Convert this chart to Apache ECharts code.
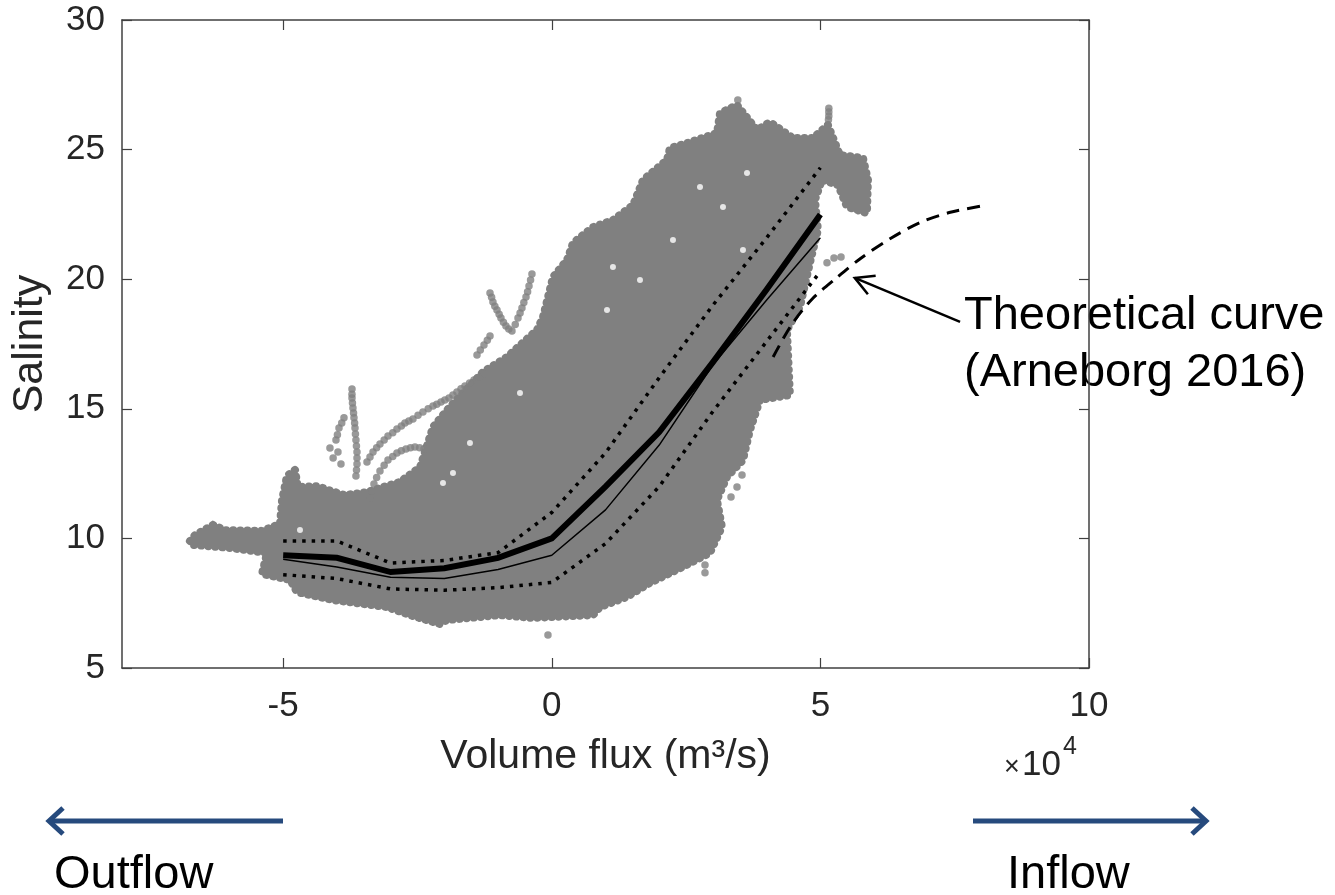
<!DOCTYPE html>
<html>
<head>
<meta charset="utf-8">
<script src="https://cdn.jsdelivr.net/npm/echarts@6/dist/echarts.min.js"></script>
<style>
html,body{margin:0;padding:0;background:#fff;}
#chart{width:1335px;height:895px;}
</style>
</head>
<body>
<div id="chart"></div>
<script>
// ---------------- DATA ----------------
// x: volume flux (units of 10^4 m^3/s), y: salinity
const xTickValues = [-5, 0, 5, 10];
const yTickValues = [5, 10, 15, 20, 25, 30];

// bin centres for the statistics lines
const fluxBins = [-5, -4, -3, -2, -1, 0, 1, 2, 3, 4, 5];
const meanSalinity   = [9.35, 9.25, 8.70, 8.85, 9.25, 10.0, 12.0, 14.1, 16.8, 19.6, 22.5];
const medianSalinity = [9.20, 8.90, 8.50, 8.45, 8.80, 9.35, 11.1, 13.6, 16.7, 19.2, 21.6];
const upperSalinity  = [9.90, 9.90, 9.05, 9.15, 9.45, 11.0, 13.3, 16.2, 19.0, 21.6, 24.3];
const lowerSalinity  = [8.60, 8.45, 8.05, 8.00, 8.10, 8.30, 9.80, 12.0, 14.9, 17.6, 20.3];

// theoretical curve (Arneborg 2016)
const theoryFlux     = [4.12, 4.46, 4.83, 5.30, 5.76, 6.32, 6.88, 7.44, 8.10];
const theorySalinity = [17.0, 18.23, 19.2, 20.05, 20.82, 21.59, 22.21, 22.59, 22.86];

// outline of the dense cloud of observations [flux, salinity]
const cloudOutline = [
 [-6.735,9.90],[-6.642,10.13],[-6.307,10.52],[-6.083,10.32],[-5.395,10.29],[-5.060,10.56],
 [-5.022,11.48],[-4.929,12.41],[-4.780,12.64],[-4.724,11.98],[-4.352,12.02],[-4.166,11.87],
 [-3.850,11.67],[-3.440,11.79],[-2.826,12.18],[-2.453,12.75],[-2.211,14.30],[-1.951,14.95],
 [-1.653,15.61],[-1.281,16.42],[-0.834,17.00],[-0.276,18.04],[-0.164,18.54],[0.022,20.08],
 [0.283,20.74],[0.395,21.40],[0.767,22.01],[1.139,22.28],[1.512,22.86],[1.698,23.83],
 [2.144,24.60],[2.200,25.06],[2.517,25.25],[3.075,25.64],[3.131,26.41],[3.447,26.72],
 [3.820,25.76],[4.062,26.06],[4.490,25.45],[4.862,25.45],[5.141,25.95],[5.365,24.79],
 [5.793,24.68],[5.886,23.83],[5.867,22.55],[5.495,22.79],[5.328,23.63],[5.030,23.83],
 [4.900,23.06],[4.955,21.90],[4.806,20.63],[4.620,18.93],[4.378,18.04],[4.434,15.53],
 [3.876,15.34],[3.690,14.18],[3.559,13.02],[3.261,12.37],[3.075,11.48],[3.168,10.44],
 [2.945,9.44],[2.442,8.90],[1.828,8.28],[1.400,7.74],[0.897,7.35],[0.767,7.04],
 [-0.350,6.93],[-0.964,7.04],[-1.951,6.85],[-2.081,6.70],[-2.640,7.04],[-3.068,7.35],
 [-4.073,7.62],[-4.743,7.93],[-4.873,8.40],[-5.395,8.63],[-5.302,9.44],[-5.990,9.63],
 [-6.680,9.75]
];

// sparse observations outside the dense cloud
const sparseObs = [
 [-3.719,15.76],[-3.719,15.56],[-3.719,15.42],[-3.710,15.22],[-3.701,15.03],[-3.690,14.84],[-3.682,14.65],
 [-3.670,14.45],[-3.663,14.26],[-3.655,14.03],[-3.645,13.80],[-3.636,13.56],[-3.626,13.33],[-3.626,13.10],
 [-3.626,12.87],[-3.635,12.64],[-3.645,12.41],[-3.868,14.65],[-3.910,14.45],[-3.961,14.26],[-4.017,13.80],
 [-3.980,13.33],[-3.924,12.87],[-4.129,13.49],[-4.070,13.10],[-3.990,14.00],
 [-3.440,12.95],[-3.384,13.14],[-3.328,13.33],[-3.260,13.50],[-3.198,13.64],[-3.120,13.80],[-3.049,13.95],
 [-2.960,14.08],[-2.882,14.22],[-2.800,14.34],[-2.733,14.45],[-2.660,14.53],[-2.584,14.61],[-2.490,14.75],
 [-2.398,14.88],[-2.300,15.00],[-2.211,15.11],[-2.140,15.18],[-2.062,15.26],[-1.990,15.34],[-1.913,15.42],
 [-1.840,15.53],[-1.765,15.65],[-1.690,15.77],[-1.616,15.88],[-1.530,16.00],[-1.448,16.11],[-1.360,16.22],
 [-1.281,16.34],
 [-3.384,11.56],[-3.350,11.83],[-3.310,12.10],[-3.260,12.35],[-3.198,12.60],[-3.120,12.82],[-3.049,13.02],
 [-2.960,13.16],[-2.882,13.29],[-2.800,13.38],[-2.714,13.45],[-2.630,13.50],[-2.547,13.53],[-2.460,13.50],
 [-2.379,13.45],
 [-1.150,19.47],[-1.120,19.30],[-1.095,19.12],[-1.060,18.96],[-1.020,18.81],[-0.980,18.65],[-0.946,18.50],
 [-0.900,18.34],[-0.853,18.19],[-0.800,18.08],[-0.741,18.00],[-0.680,18.25],[-0.629,18.50],[-0.590,18.70],
 [-0.555,18.89],[-0.520,19.10],[-0.480,19.31],[-0.450,19.52],[-0.424,19.74],[-0.395,19.97],[-0.369,20.20],
 [-1.150,17.81],[-1.200,17.64],[-1.262,17.46],[-1.330,17.27],[-1.392,17.08],
 [3.463,26.91],[5.157,26.60],[5.157,26.45],[5.157,26.30],[5.150,26.15],
 [3.541,12.45],[3.448,11.98],[3.336,11.60],[2.852,8.67],[2.852,8.97],[-0.071,6.27],
 [5.123,20.63],[5.253,20.82],[5.384,20.86]
];

// gaps (empty spots) inside the dense cloud
const cloudGaps = [
 [2.256,21.51],[3.559,21.13],[1.139,20.47],[3.187,22.79],[3.634,24.10],[2.759,23.56],
 [1.642,19.97],[1.028,18.81],[-1.523,13.68],[-1.839,12.52],[-0.592,15.61],[-4.687,10.32],
 [-2.025,12.14]
];

// annotation anchor points [flux, salinity]
const annotationTip  = [5.64, 20.05];
const annotationTail = [7.60, 18.35];

// ---------------- CHART ----------------
const FONT = '"Liberation Sans", Arial, Helvetica, sans-serif';
const AXIS_COLOR = '#404040';
const TEXT_COLOR = '#262626';
const CLOUD = '#808080';

const zip = (xs, ys) => xs.map((x, i) => [x, ys[i]]);

const chart = echarts.init(document.getElementById('chart'), null, {renderer: 'canvas'});

const axisCommon = {
  type: 'value',
  axisLine: {show: true, onZero: false, lineStyle: {color: AXIS_COLOR, width: 1.5}},
  splitLine: {show: false},
};

const option = {
  animation: false,
  backgroundColor: '#fff',
  grid: {left: 122, right: 246, top: 20, bottom: 227, containLabel: false, outerBoundsMode: 'none'},
  xAxis: [
    Object.assign({}, axisCommon, {
      position: 'bottom', min: -8, max: 10,
      axisTick: {show: true, inside: true, length: 10, lineStyle: {color: AXIS_COLOR, width: 1.2}, customValues: xTickValues},
      axisLabel: {show: true, customValues: xTickValues, fontSize: 35, color: TEXT_COLOR, fontFamily: FONT, margin: 21},
      name: 'Volume flux (m³/s)', nameLocation: 'middle', nameGap: 68,
      nameTextStyle: {fontSize: 41, color: TEXT_COLOR, fontFamily: FONT, verticalAlign: 'top'}
    }),
    Object.assign({}, axisCommon, {
      position: 'top', min: -8, max: 10,
      axisTick: {show: true, inside: true, length: 10, lineStyle: {color: AXIS_COLOR, width: 1.2}, customValues: xTickValues},
      axisLabel: {show: false}
    })
  ],
  yAxis: [
    Object.assign({}, axisCommon, {
      position: 'left', min: 5, max: 30, interval: 5,
      axisTick: {show: true, inside: true, length: 10, lineStyle: {color: AXIS_COLOR, width: 1.2}},
      axisLabel: {show: true, fontSize: 35, color: TEXT_COLOR, fontFamily: FONT, margin: 17},
      name: 'Salinity', nameLocation: 'middle', nameGap: 70, nameRotate: 90,
      nameTextStyle: {fontSize: 43, color: TEXT_COLOR, fontFamily: FONT}
    }),
    Object.assign({}, axisCommon, {
      position: 'right', min: 5, max: 30, interval: 5,
      axisTick: {show: true, inside: true, length: 10, lineStyle: {color: AXIS_COLOR, width: 1.2}},
      axisLabel: {show: false}
    })
  ],
  series: [
    {
      type: 'custom', name: 'cloud', z: 1, clip: true,
      data: cloudOutline,
      renderItem: function (params, api) {
        if (params.dataIndex !== 0) return;
        const pts = cloudOutline.map(p => api.coord(p));
        return {
          type: 'group',
          children: [
            {type: 'polygon', shape: {points: pts}, style: {fill: CLOUD, stroke: CLOUD, lineWidth: 2, lineJoin: 'round'}},
            {type: 'polygon', shape: {points: pts}, style: {fill: null, stroke: CLOUD, lineWidth: 8, lineCap: 'round', lineDash: [0.1, 7]}}
          ]
        };
      },
      silent: true
    },
    {
      type: 'scatter', name: 'sparse', z: 2, data: sparseObs, symbol: 'circle', symbolSize: 7.5,
      itemStyle: {color: CLOUD}, silent: true
    },
    {
      type: 'scatter', name: 'gaps', z: 3, data: cloudGaps, symbol: 'circle', symbolSize: 6,
      itemStyle: {color: '#ffffff'}, silent: true
    },
    {
      type: 'line', name: 'upper', z: 4, data: zip(fluxBins, upperSalinity), showSymbol: false, symbol: 'none',
      lineStyle: {color: '#000', width: 3.5, type: [3.5, 6], cap: 'butt'}, silent: true
    },
    {
      type: 'line', name: 'lower', z: 4, data: zip(fluxBins, lowerSalinity), showSymbol: false, symbol: 'none',
      lineStyle: {color: '#000', width: 3.5, type: [3.5, 6], cap: 'butt'}, silent: true
    },
    {
      type: 'line', name: 'median', z: 5, data: zip(fluxBins, medianSalinity), showSymbol: false, symbol: 'none',
      lineStyle: {color: '#000', width: 1.5}, silent: true
    },
    {
      type: 'line', name: 'mean', z: 6, data: zip(fluxBins, meanSalinity), showSymbol: false, symbol: 'none',
      lineStyle: {color: '#000', width: 6, cap: 'butt', join: 'miter'}, silent: true
    },
    {
      type: 'line', name: 'theory', z: 6, data: zip(theoryFlux, theorySalinity), showSymbol: false, symbol: 'none',
      smooth: 0.3,
      lineStyle: {color: '#000', width: 3, type: [13, 8], cap: 'butt'}, silent: true
    }
  ]
};
chart.setOption(option);

// ---------------- ANNOTATIONS ----------------
const tip = chart.convertToPixel({gridIndex: 0}, annotationTip);
const tail = chart.convertToPixel({gridIndex: 0}, annotationTail);
const ang = Math.atan2(tail[1] - tip[1], tail[0] - tip[0]);
const wing = 21, spread = 0.5;
const w1 = [tip[0] + wing * Math.cos(ang - spread), tip[1] + wing * Math.sin(ang - spread)];
const w2 = [tip[0] + wing * Math.cos(ang + spread), tip[1] + wing * Math.sin(ang + spread)];

const BLUE = '#264a7d';
function txt(x, y, text, size, color) {
  return {
    type: 'text', x: x, y: y,
    style: {text: text, font: size + 'px ' + FONT, fill: color || '#000', textAlign: 'left', textVerticalAlign: 'middle'}
  };
}

chart.setOption({
  graphic: [
    // annotation arrow
    {type: 'polyline', shape: {points: [tail, tip]}, style: {stroke: '#000', lineWidth: 2.5}},
    {type: 'polyline', shape: {points: [w1, tip, w2]}, style: {stroke: '#000', lineWidth: 2.5, fill: null}},
    txt(964, 316, 'Theoretical curve', 47),
    txt(964, 373, '(Arneborg 2016)', 47),
    // exponent label
    txt(1004, 768, '×', 27, TEXT_COLOR),
    txt(1022, 765, '10', 35, TEXT_COLOR),
    txt(1063, 747, '4', 25, TEXT_COLOR),
    // flow direction arrows
    {type: 'polyline', shape: {points: [[283, 821], [52, 821]]}, style: {stroke: BLUE, lineWidth: 5}},
    {type: 'polyline', shape: {points: [[63, 808], [49, 821], [63, 834]]}, style: {stroke: BLUE, lineWidth: 5, fill: null, lineJoin: 'miter'}},
    {type: 'polyline', shape: {points: [[973, 821], [1204, 821]]}, style: {stroke: BLUE, lineWidth: 5}},
    {type: 'polyline', shape: {points: [[1192, 808], [1206, 821], [1192, 834]]}, style: {stroke: BLUE, lineWidth: 5, fill: null, lineJoin: 'miter'}},
    txt(54, 875, 'Outflow', 47),
    txt(1007, 875, 'Inflow', 47)
  ]
});
</script>
</body>
</html>
